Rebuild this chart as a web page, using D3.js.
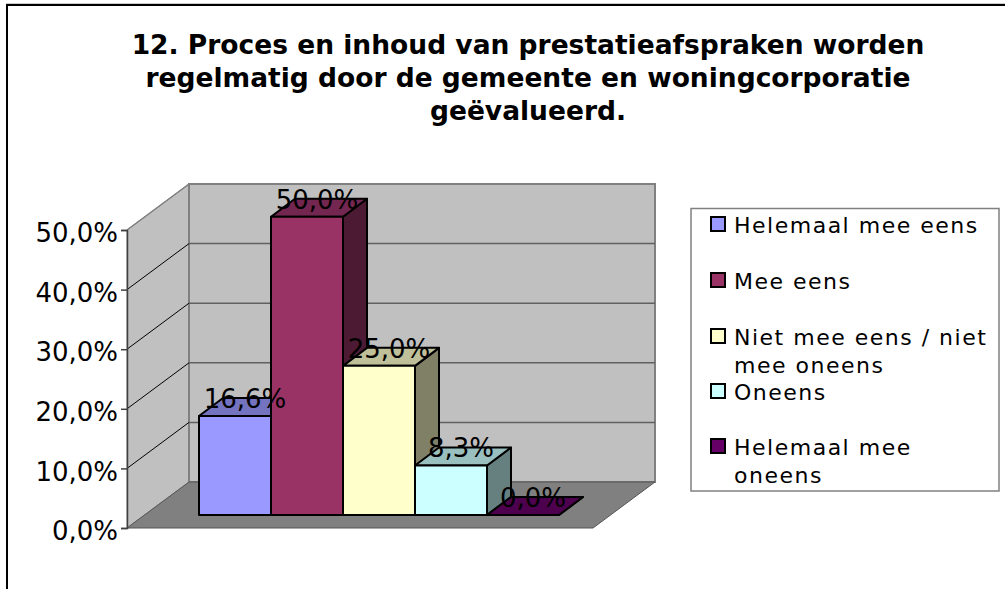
<!DOCTYPE html>
<html>
<head>
<meta charset="utf-8">
<script src="https://cdn.jsdelivr.net/npm/d3@7"></script>
<style>
  html, body { margin: 0; padding: 0; background: #fff; overflow: hidden; }
  text { font-family: "DejaVu Sans", Verdana, sans-serif; fill: #000; }
</style>
</head>
<body>
<div id="chart"></div>
<script>
var categories = ["Helemaal mee eens", "Mee eens", "Niet mee eens / niet mee oneens", "Oneens", "Helemaal mee oneens"];
var values = [16.6, 50.0, 25.0, 8.3, 0.0];
var valueLabels = ["16,6%", "50,0%", "25,0%", "8,3%", "0,0%"];
var axisTicks = [0, 10, 20, 30, 40, 50];
var titleLines = ["12. Proces en inhoud van prestatieafspraken worden", "regelmatig door de gemeente en woningcorporatie", "geëvalueerd."];
var legendLines = [["Helemaal mee eens"], ["Mee eens"], ["Niet mee eens / niet", "mee oneens"], ["Oneens"], ["Helemaal mee", "oneens"]];
var fronts = ["#9999ff", "#993366", "#ffffcc", "#ccffff", "#660066"];
var tops = ["#7373bf", "#732650", "#bfbf99", "#99bfbf", "#4d004d"];
var sides = ["#4d4d80", "#4d1a33", "#808066", "#668080", "#330033"];

var svgWidth = 1005;
var svgHeight = 589;

var svg = d3.select("#chart")
  .append("svg")
  .attr("width", svgWidth)
  .attr("height", svgHeight);

// chart frame, runs off the right and bottom of the picture
svg.append("line")
  .attr("x1", 6).attr("x2", svgWidth)
  .attr("y1", 3.5).attr("y2", 3.5)
  .attr("stroke", "#ccc");
svg.append("rect")
  .attr("x", 7).attr("y", 5)
  .attr("width", 1100).attr("height", 700)
  .attr("fill", "#fff")
  .attr("stroke", "#000")
  .attr("stroke-width", 2);

// title
svg.append("g").selectAll("text")
  .data(titleLines)
  .enter()
  .append("text")
  .attr("x", 528)
  .attr("y", (d, i) => 54 + i * 33)
  .attr("text-anchor", "middle")
  .attr("font-size", 26.5)
  .attr("font-weight", "bold")
  .text(d => d);

// plot box: front floor edge, back wall offset
var y = d3.scaleLinear().domain([0, 50]).range([528, 230]);
var floorX = d3.scaleLinear().domain([0, 1]).range([127, 593]);
var wallDx = 62, wallDy = -46;

function pts(list) {
  return list.map(p => p.join(",")).join(" ");
}

// side wall
svg.append("polygon")
  .attr("points", pts([[floorX(0), y(0)], [floorX(0), y(50)], [floorX(0) + wallDx, y(50) + wallDy], [floorX(0) + wallDx, y(0) + wallDy]]))
  .attr("fill", "#c0c0c0")
  .attr("stroke", "#808080");

// back wall
svg.append("rect")
  .attr("x", floorX(0) + wallDx)
  .attr("y", y(50) + wallDy)
  .attr("width", floorX(1) - floorX(0))
  .attr("height", y(0) - y(50))
  .attr("fill", "#c0c0c0")
  .attr("stroke", "#808080")
  .attr("stroke-width", 2);

// floor
svg.append("polygon")
  .attr("points", pts([[floorX(0), y(0)], [floorX(0) + wallDx, y(0) + wallDy], [floorX(1) + wallDx, y(0) + wallDy], [floorX(1), y(0)]]))
  .attr("fill", "#808080")
  .attr("stroke", "#555")
  .attr("stroke-width", 1);

// gridlines
var gridTicks = axisTicks.slice(1, 5);
svg.append("g").selectAll("path")
  .data(gridTicks)
  .enter()
  .append("path")
  .attr("fill", "none")
  .attr("stroke", "#000")
  .attr("d", d => `M${floorX(0)},${y(d)}L${floorX(0) + wallDx},${y(d) + wallDy}`);
svg.append("g").selectAll("line")
  .data(gridTicks)
  .enter()
  .append("line")
  .attr("x1", floorX(0) + wallDx)
  .attr("x2", floorX(1) + wallDx)
  .attr("y1", d => y(d) + wallDy)
  .attr("y2", d => y(d) + wallDy)
  .attr("stroke", "#606060")
  .attr("stroke-width", 1.5);
svg.append("path")
  .attr("fill", "none")
  .attr("stroke", "#808080")
  .attr("stroke-width", 1.5)
  .attr("d", `M${floorX(0)},${y(50)}L${floorX(0) + wallDx},${y(50) + wallDy}`);

// y axis
var axis = svg.append("g")
  .attr("transform", `translate(${floorX(0)},0)`)
  .call(d3.axisLeft(y).tickValues(axisTicks).tickSize(6).tickPadding(3)
    .tickFormat(d => d3.format(".1f")(d).replace(".", ",") + "%"));
axis.selectAll("path,line").attr("stroke", "#404040").attr("stroke-width", 1.5);
axis.selectAll("text")
  .attr("font-size", 26)
  .attr("font-family", '"DejaVu Sans"')
  .attr("fill", "#000")
  .attr("dy", "0.45em");

// bars
var x = d3.scaleBand().domain(categories).range([199, 559]);
var h = d3.scaleLinear().domain([0, 50]).range([515, 216.7]);
var barDx = 24, barDy = -18;

var bars = svg.append("g").selectAll("g")
  .data(categories)
  .enter()
  .append("g")
  .attr("stroke", "#000")
  .attr("stroke-width", 2)
  .attr("stroke-linejoin", "round");

bars.append("polygon")
  .attr("fill", (d, i) => sides[i])
  .attr("points", (d, i) => {
    var r = x(d) + x.bandwidth();
    return pts([[r, h(values[i])], [r + barDx, h(values[i]) + barDy], [r + barDx, h(0) + barDy], [r, h(0)]]);
  });
bars.append("polygon")
  .attr("fill", (d, i) => tops[i])
  .attr("points", (d, i) => {
    var l = x(d), r = l + x.bandwidth();
    return pts([[l, h(values[i])], [l + barDx, h(values[i]) + barDy], [r + barDx, h(values[i]) + barDy], [r, h(values[i])]]);
  });
bars.append("rect")
  .attr("fill", (d, i) => fronts[i])
  .attr("x", d => x(d))
  .attr("y", (d, i) => h(values[i]))
  .attr("width", x.bandwidth())
  .attr("height", (d, i) => h(0) - h(values[i]));

// data labels
svg.append("g").selectAll("text")
  .data(categories)
  .enter()
  .append("text")
  .attr("x", d => x(d) + x.bandwidth() / 2 + 10)
  .attr("y", (d, i) => h(values[i]) - 8)
  .attr("text-anchor", "middle")
  .attr("font-size", 26)
  .text((d, i) => valueLabels[i]);

// legend
svg.append("rect")
  .attr("x", 691).attr("y", 208.5)
  .attr("width", 308).attr("height", 282.5)
  .attr("fill", "#fff")
  .attr("stroke", "#808080")
  .attr("stroke-width", 1.5);

var swatchY = [224, 280, 336, 391, 446];
var legend = svg.append("g").selectAll("g")
  .data(categories)
  .enter()
  .append("g")
  .attr("transform", (d, i) => `translate(711,${swatchY[i]})`);
legend.append("rect")
  .attr("y", -7).attr("width", 14).attr("height", 14)
  .attr("fill", (d, i) => fronts[i])
  .attr("stroke", "#000")
  .attr("stroke-width", 2);
legend.each(function(d, i) {
  d3.select(this).selectAll("text")
    .data(legendLines[i])
    .enter()
    .append("text")
    .attr("x", 23)
    .attr("y", (t, j) => 9 + j * 28)
    .attr("font-size", 22)
    .attr("letter-spacing", 1.5)
    .text(t => t);
});
</script>
</body>
</html>
